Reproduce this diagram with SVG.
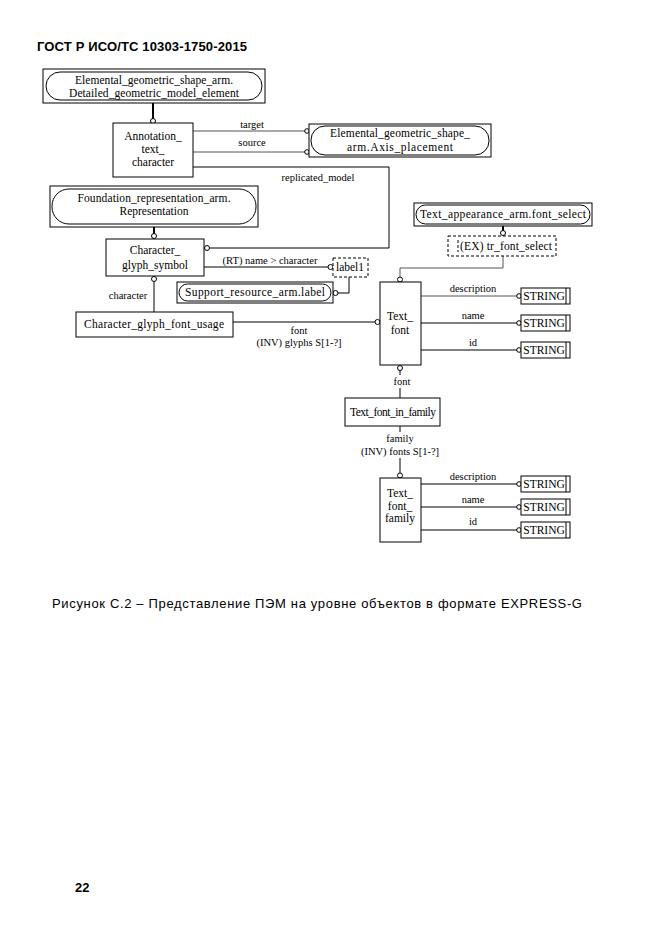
<svg xmlns="http://www.w3.org/2000/svg" width="661" height="935" viewBox="0 0 661 935">
<style>
.t{font-family:"Liberation Serif","Times New Roman",serif;font-size:11.5px;fill:#000;text-anchor:middle}
.l{font-family:"Liberation Serif","Times New Roman",serif;font-size:10.5px;fill:#000;text-anchor:middle}
.box{fill:#fff;stroke:#000;stroke-width:1}
.st{fill:none;stroke:#000;stroke-width:1}
.dash{fill:#fff;stroke:#000;stroke-width:1;stroke-dasharray:3,2}
.ln{fill:none;stroke:#000;stroke-width:1}
.gl{fill:none;stroke:#555;stroke-width:1}
.th{fill:none;stroke:#000;stroke-width:2}
.c{fill:#fff;stroke:#000;stroke-width:1}
</style>
<rect width="661" height="935" fill="#fff"/>
<text x="37" y="51" font-family="Liberation Sans,Arial,sans-serif" font-size="13" font-weight="bold" textLength="210">ГОСТ Р ИСО/ТС 10303-1750-2015</text>

<g id="connectors">
  <line class="th" x1="153" y1="103" x2="153" y2="119"/>
  <circle class="c" cx="153" cy="121" r="2.5"/>
  <line class="gl" x1="193" y1="131" x2="305" y2="131"/>
  <circle class="c" cx="307" cy="131" r="2.3"/>
  <line class="gl" x1="193" y1="152" x2="305" y2="152"/>
  <circle class="c" cx="307" cy="152" r="2.3"/>
  <text class="l" x="252" y="128">target</text>
  <text class="l" x="252" y="146">source</text>
  <polyline class="ln" points="193,167 389,167 389,248 210,248"/>
  <circle class="c" cx="207" cy="248" r="2.5"/>
  <text class="l" x="318" y="181">replicated_model</text>
  <line class="th" x1="154" y1="227" x2="154" y2="234"/>
  <circle class="c" cx="154" cy="236" r="2.5"/>
  <line class="ln" x1="204" y1="267" x2="328" y2="267"/>
  <circle class="c" cx="330.5" cy="267" r="2.5"/>
  <text class="l" x="270" y="264">(RT) name &gt; character</text>
  <polyline class="ln" points="349,277 349,293 338,293"/>
  <circle class="c" cx="335.5" cy="293" r="2.5"/>
  <circle class="c" cx="154" cy="279" r="2.5"/>
  <line class="ln" x1="154" y1="281.5" x2="154" y2="312"/>
  <text class="l" x="128" y="299">character</text>
  <line class="ln" x1="233" y1="322" x2="375" y2="322"/>
  <circle class="c" cx="377.5" cy="322" r="2.5"/>
  <text class="l" x="299" y="334">font</text>
  <text class="l" x="299" y="346">(INV) glyphs S[1-?]</text>
  <line class="th" x1="503" y1="226" x2="503" y2="231"/>
  <circle class="c" cx="503" cy="233" r="2.5"/>
  <polyline class="gl" points="503,256 503,268 400,268 400,277"/>
  <circle class="c" cx="400" cy="279.5" r="2.5"/>
  <line class="gl" x1="421" y1="296" x2="517" y2="296"/>
  <circle class="c" cx="519" cy="296" r="2.3"/>
  <text class="l" x="473" y="292">description</text>
  <line class="ln" x1="421" y1="323" x2="517" y2="323"/>
  <circle class="c" cx="519" cy="323" r="2.3"/>
  <text class="l" x="473" y="319">name</text>
  <line class="ln" x1="421" y1="350" x2="517" y2="350"/>
  <circle class="c" cx="519" cy="350" r="2.3"/>
  <text class="l" x="473" y="346">id</text>
  <circle class="c" cx="400" cy="368" r="2.5"/>
  <line class="ln" x1="400" y1="370.5" x2="400" y2="375"/>
  <text class="l" x="402" y="385">font</text>
  <line class="ln" x1="400" y1="388" x2="400" y2="398"/>
  <line class="ln" x1="400" y1="426" x2="400" y2="432"/>
  <text class="l" x="400" y="442">family</text>
  <text class="l" x="400" y="455">(INV) fonts S[1-?]</text>
  <line class="ln" x1="400" y1="458" x2="400" y2="473"/>
  <circle class="c" cx="400" cy="475.5" r="2.5"/>
  <line class="ln" x1="421" y1="484" x2="517" y2="484"/>
  <circle class="c" cx="519" cy="484" r="2.3"/>
  <text class="l" x="473" y="480">description</text>
  <line class="ln" x1="421" y1="507" x2="517" y2="507"/>
  <circle class="c" cx="519" cy="507" r="2.3"/>
  <text class="l" x="473" y="503">name</text>
  <line class="ln" x1="421" y1="530" x2="517" y2="530"/>
  <circle class="c" cx="519" cy="530" r="2.3"/>
  <text class="l" x="473" y="525">id</text>
</g>

<g id="detailed_geometric_model_element">
  <rect class="box" x="43" y="69" width="222" height="34"/>
  <rect class="st" x="46" y="72" width="216" height="28" rx="14"/>
  <text class="t" x="154" y="84" textLength="158">Elemental_geometric_shape_arm.</text>
  <text class="t" x="154" y="97" textLength="170">Detailed_geometric_model_element</text>
</g>
<g id="annotation_text_character">
  <rect class="box" x="113" y="123" width="80" height="54"/>
  <text class="t" x="153" y="140">Annotation_</text>
  <text class="t" x="153" y="153">text_</text>
  <text class="t" x="153" y="166">character</text>
</g>
<g id="axis_placement">
  <rect class="box" x="309" y="124" width="182" height="33"/>
  <rect class="st" x="311" y="126" width="178" height="29" rx="14"/>
  <text class="t" x="400" y="137" textLength="140">Elemental_geometric_shape_</text>
  <text class="t" x="400" y="151" textLength="106">arm.Axis_placement</text>
</g>
<g id="representation">
  <rect class="box" x="50" y="186" width="208" height="41"/>
  <rect class="st" x="52" y="189" width="204" height="35" rx="17"/>
  <text class="t" x="154" y="202" textLength="153">Foundation_representation_arm.</text>
  <text class="t" x="154" y="215">Representation</text>
</g>
<g id="character_glyph_symbol">
  <rect class="box" x="106" y="239" width="98" height="37"/>
  <text class="t" x="155" y="254">Character_</text>
  <text class="t" x="155" y="269">glyph_symbol</text>
</g>
<g id="label1">
  <rect class="dash" x="333" y="258" width="35" height="19"/>
  <text class="t" x="350" y="271">label1</text>
</g>
<g id="support_resource_label">
  <rect class="box" x="177" y="282" width="156" height="21"/>
  <rect class="st" x="179" y="284" width="152" height="17" rx="8.5"/>
  <text class="t" x="255" y="296" textLength="140">Support_resource_arm.label</text>
</g>
<g id="character_glyph_font_usage">
  <rect class="box" x="76" y="312" width="157" height="25"/>
  <text class="t" x="154" y="328" textLength="140">Character_glyph_font_usage</text>
</g>
<g id="font_select">
  <rect class="box" x="414" y="203" width="178" height="23"/>
  <rect class="st" x="416" y="205" width="174" height="19" rx="9.5"/>
  <text class="t" x="503" y="218" textLength="166">Text_appearance_arm.font_select</text>
</g>
<g id="tr_font_select">
  <rect class="dash" x="448" y="236" width="108" height="20"/>
  <line class="ln" x1="458" y1="240" x2="458" y2="252" stroke-dasharray="3,2"/>
  <text class="t" x="506" y="250" textLength="92">(EX) tr_font_select</text>
</g>
<g id="text_font">
  <rect class="box" x="380" y="282" width="41" height="83"/>
  <text class="t" x="400" y="320">Text_</text>
  <text class="t" x="400" y="334">font</text>
</g>
<g id="string1">
  <rect class="box" x="521" y="288" width="49" height="16"/>
  <line class="ln" x1="566" y1="288" x2="566" y2="304"/>
  <text class="t" x="544" y="300" font-size="11">STRING</text>
</g>
<g id="string2">
  <rect class="box" x="521" y="315" width="49" height="16"/>
  <line class="ln" x1="566" y1="315" x2="566" y2="331"/>
  <text class="t" x="544" y="327" font-size="11">STRING</text>
</g>
<g id="string3">
  <rect class="box" x="521" y="342" width="49" height="16"/>
  <line class="ln" x1="566" y1="342" x2="566" y2="358"/>
  <text class="t" x="544" y="354" font-size="11">STRING</text>
</g>
<g id="text_font_in_family">
  <rect class="box" x="345" y="398" width="95" height="28"/>
  <text class="t" x="393" y="416" font-size="11" textLength="86">Text_font_in_family</text>
</g>
<g id="text_font_family">
  <rect class="box" x="380" y="478" width="41" height="64"/>
  <text class="t" x="400" y="497">Text_</text>
  <text class="t" x="400" y="510">font_</text>
  <text class="t" x="400" y="522">family</text>
</g>
<g id="string4">
  <rect class="box" x="521" y="476" width="49" height="16"/>
  <line class="ln" x1="566" y1="476" x2="566" y2="492"/>
  <text class="t" x="544" y="488" font-size="11">STRING</text>
</g>
<g id="string5">
  <rect class="box" x="521" y="499" width="49" height="16"/>
  <line class="ln" x1="566" y1="499" x2="566" y2="515"/>
  <text class="t" x="544" y="511" font-size="11">STRING</text>
</g>
<g id="string6">
  <rect class="box" x="521" y="522" width="49" height="16"/>
  <line class="ln" x1="566" y1="522" x2="566" y2="538"/>
  <text class="t" x="544" y="534" font-size="11">STRING</text>
</g>

<text x="52" y="608" font-family="Liberation Sans,Arial,sans-serif" font-size="13" textLength="530">Рисунок С.2 –  Представление ПЭМ на уровне объектов в формате EXPRESS-G</text>
<text x="75" y="892" font-family="Liberation Sans,Arial,sans-serif" font-size="13" font-weight="bold">22</text>
</svg>
